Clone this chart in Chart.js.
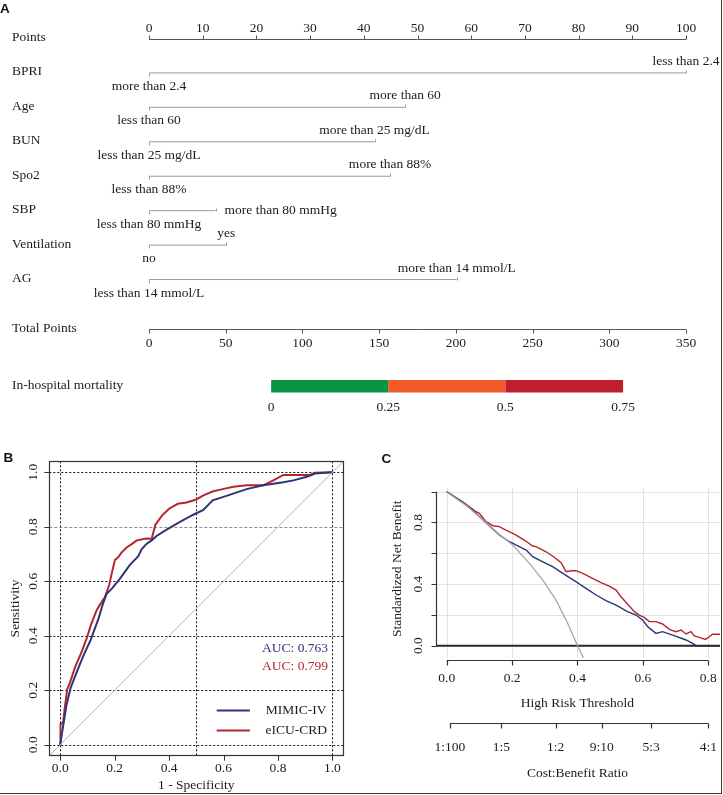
<!DOCTYPE html>
<html lang="en">
<head>
<meta charset="UTF-8">
<title>Nomogram, ROC and decision curve</title>
<style>
  html, body { margin: 0; padding: 0; background: #fff; }
  #page { position: relative; width: 723px; height: 795px; overflow: hidden; }
  #page canvas { position: absolute; }
  #nomo { left: 0; top: 0; }
  #roc { left: 0; top: 445px; }
  #dca { left: 365px; top: 445px; }
  .edge { position: absolute; background: #3a3a3a; }
</style>
</head>
<body>
<div id="page">
  <canvas id="nomo" width="723" height="420"></canvas>
  <canvas id="roc" width="365" height="350"></canvas>
  <canvas id="dca" width="358" height="350"></canvas>
  <div class="edge" style="left:721px;top:0;width:1px;height:794px"></div>
  <div class="edge" style="left:0;top:793px;width:722px;height:1px"></div>
</div>
<script src="https://cdn.jsdelivr.net/npm/chart.js"></script>
<script>
// ---------- panel A : nomogram ----------
const pointTicks = [0, 10, 20, 30, 40, 50, 60, 70, 80, 90, 100];
const totalTicks = [0, 50, 100, 150, 200, 250, 300, 350];
const predictors = ['BPRI', 'Age', 'BUN', 'Spo2', 'SBP', 'Ventilation', 'AG'];
const zeroLevels = ['more than 2.4', 'less than 60', 'less than 25 mg/dL', 'less than 88%',
                    'less than 80 mmHg', 'no', 'less than 14 mmol/L'];
const topLevels = ['less than 2.4', 'more than 60', 'more than 25 mg/dL', 'more than 88%',
                   'more than 80 mmHg', 'yes', 'more than 14 mmol/L'];
const zeroPoints = [0, 0, 0, 0, 0, 0, 0];
const topPoints = [100, 47.7, 42, 44.9, 12.4, 14.4, 57.3];
const riskLabels = ['0', '0.25', '0.5', '0.75'];
const riskTotals = [79.6, 155.9, 232.2, 309];   // total points under each risk label

// ---------- panel B : ROC ----------
const rocTicks = [0, 0.2, 0.4, 0.6, 0.8, 1.0];
const rocTickLabels = ['0.0', '0.2', '0.4', '0.6', '0.8', '1.0'];
const rocGridX = [0, 0.5, 1];
const rocDiag = [-0.04, 1.04];
const mimicFpr = [0, 0.011, 0.023, 0.038, 0.060, 0.085, 0.112, 0.140, 0.158, 0.170, 0.189, 0.219,
  0.256, 0.287, 0.299, 0.317, 0.336, 0.354, 0.391, 0.440, 0.489, 0.526, 0.544, 0.560, 0.611, 0.685,
  0.746, 0.820, 0.857, 0.906, 0.936, 1.0];
const mimicTpr = [0, 0.070, 0.145, 0.208, 0.265, 0.326, 0.385, 0.461, 0.520, 0.553, 0.572, 0.609,
  0.660, 0.692, 0.717, 0.737, 0.750, 0.766, 0.789, 0.818, 0.844, 0.862, 0.880, 0.897, 0.913, 0.938,
  0.952, 0.963, 0.970, 0.983, 0.995, 1.0];
const eicuFpr = [0, 0.001, 0.011, 0.017, 0.026, 0.036, 0.054, 0.078, 0.099, 0.112, 0.134, 0.148,
  0.164, 0.180, 0.189, 0.201, 0.213, 0.225, 0.244, 0.268, 0.281, 0.317, 0.336, 0.350, 0.376, 0.400,
  0.432, 0.464, 0.500, 0.526, 0.562, 0.593, 0.636, 0.685, 0.746, 0.783, 0.820, 0.918, 0.936, 1.0];
const eicuTpr = [0, 0.075, 0.082, 0.136, 0.205, 0.228, 0.283, 0.339, 0.395, 0.437, 0.494, 0.517,
  0.541, 0.586, 0.627, 0.678, 0.688, 0.705, 0.724, 0.740, 0.750, 0.757, 0.756, 0.808, 0.843, 0.866,
  0.884, 0.889, 0.900, 0.915, 0.930, 0.937, 0.947, 0.952, 0.952, 0.970, 0.990, 0.990, 0.998, 1.0];
const cohorts = ['MIMIC-IV', 'eICU-CRD'];
const aucText = ['AUC: 0.763', 'AUC: 0.799'];

// ---------- panel C : decision curve ----------
const dcaTicks = [0, 0.2, 0.4, 0.6, 0.8];
const dcaTickLabels = ['0.0', '0.2', '0.4', '0.6', '0.8'];
const nbTicks = [0, 0.2, 0.4, 0.6, 0.8, 1.0];
const nbTickLabels = ['0.0', '', '0.4', '', '0.8', ''];
const cbLabels = ['1:100', '1:5', '1:2', '9:10', '5:3', '4:1'];
const cbAt = [0.0099, 0.167, 0.333, 0.474, 0.625, 0.8];
const noneX = [-0.04, 0.85];
const allPt = [0, 0.06, 0.12, 0.161, 0.202, 0.253, 0.294, 0.334, 0.370, 0.400, 0.416, 0.430];
const allNb = [1.0, 0.91, 0.80, 0.722, 0.654, 0.535, 0.426, 0.297, 0.145, 0.0, -0.071, -0.15];
const mimicPt = [0, 0.049, 0.079, 0.120, 0.161, 0.192, 0.222, 0.243, 0.263, 0.294, 0.324, 0.355,
  0.395, 0.426, 0.457, 0.487, 0.518, 0.553, 0.579, 0.599, 0.615, 0.640, 0.660, 0.691, 0.732, 0.752,
  0.762, 0.840];
const mimicNb = [1.0, 0.929, 0.881, 0.799, 0.719, 0.675, 0.643, 0.621, 0.578, 0.545, 0.513, 0.470,
  0.416, 0.372, 0.329, 0.292, 0.264, 0.221, 0.199, 0.167, 0.123, 0.080, 0.091, 0.069, 0.037, 0.015,
  0.0, 0.0];
const eicuPt = [0, 0.049, 0.090, 0.100, 0.120, 0.141, 0.161, 0.181, 0.207, 0.237, 0.263, 0.273,
  0.304, 0.329, 0.350, 0.365, 0.380, 0.395, 0.416, 0.446, 0.472, 0.497, 0.518, 0.533, 0.553, 0.574,
  0.589, 0.604, 0.620, 0.640, 0.660, 0.681, 0.701, 0.717, 0.732, 0.747, 0.757, 0.773, 0.791, 0.803,
  0.813, 0.836];
const eicuNb = [1.0, 0.935, 0.870, 0.859, 0.805, 0.779, 0.773, 0.751, 0.725, 0.686, 0.647, 0.643,
  0.610, 0.574, 0.539, 0.481, 0.487, 0.487, 0.470, 0.437, 0.409, 0.387, 0.361, 0.318, 0.271, 0.221,
  0.199, 0.184, 0.156, 0.156, 0.141, 0.106, 0.091, 0.102, 0.076, 0.091, 0.063, 0.054, 0.041, 0.058,
  0.074, 0.074];

// ---------- styling ----------
const SERIF = '"Liberation Serif", "Times New Roman", serif';
const FONT = '13.5px ' + SERIF;
const INK = '#1c1c1c';
const NAVY = '#2f3474';
const RED = '#b5262f';
const bandColors = ['#0b9444', '#f15a29', '#be1e2d'];
const TOTAL_ROW = 8.45;
const RISK_ROW = 10.1;

function label(ctx, s, px, py, o = {}) {
  ctx.save();
  ctx.font = o.font || FONT;
  ctx.fillStyle = o.color || INK;
  ctx.textAlign = o.align || 'center';
  ctx.textBaseline = 'middle';
  ctx.translate(px, py);
  if (o.rot) ctx.rotate(-Math.PI / 2);
  ctx.fillText(s, 0, 0);
  ctx.restore();
}
function seg(ctx, x1, y1, x2, y2) { ctx.moveTo(x1, y1); ctx.lineTo(x2, y2); }
const snap = v => Math.round(v) + 0.5;
const pairs = (xs, ys) => xs.map((v, i) => ({ x: v, y: ys[i] }));
const baseOpts = {
  responsive: false,
  animation: false,
  plugins: { legend: { display: false }, tooltip: { enabled: false } }
};

// nomogram axes and texts
const nomoPlugin = {
  id: 'nomoText',
  afterDatasetsDraw(chart) {
    const { ctx, scales: { x, xt, y } } = chart;
    ctx.save();
    ctx.lineWidth = 1;
    // Points axis: ticks up, labels above
    const py = snap(y.getPixelForValue(0));
    ctx.strokeStyle = '#555';
    ctx.beginPath();
    seg(ctx, x.getPixelForValue(pointTicks[0]), py, x.getPixelForValue(pointTicks[pointTicks.length - 1]), py);
    pointTicks.forEach(t => { const px = snap(x.getPixelForValue(t)); seg(ctx, px, py, px, py - 4); });
    ctx.stroke();
    pointTicks.forEach(t => label(ctx, String(t), x.getPixelForValue(t), py - 11.5));

    // predictor ticks and level names
    ctx.strokeStyle = '#9a9a9a';
    predictors.forEach((p, i) => {
      const ry = snap(y.getPixelForValue(i + 1));
      const a = x.getPixelForValue(zeroPoints[i]);
      const b = x.getPixelForValue(topPoints[i]);
      ctx.beginPath();
      seg(ctx, snap(a), ry, snap(a), ry + 3);
      seg(ctx, snap(b), ry, snap(b), ry - 3);
      ctx.stroke();
      label(ctx, zeroLevels[i], a, ry + 12.5);
      if (p === 'SBP') label(ctx, topLevels[i], b + 9, ry - 1.5, { align: 'left' });
      else label(ctx, topLevels[i], b, ry - 12);
    });

    // Total Points axis: ticks down, labels below
    const ty = snap(y.getPixelForValue(TOTAL_ROW));
    ctx.strokeStyle = '#555';
    ctx.beginPath();
    seg(ctx, xt.getPixelForValue(totalTicks[0]), ty, xt.getPixelForValue(totalTicks[totalTicks.length - 1]), ty);
    totalTicks.forEach(t => { const px = snap(xt.getPixelForValue(t)); seg(ctx, px, ty, px, ty + 4); });
    ctx.stroke();
    totalTicks.forEach(t => label(ctx, String(t), xt.getPixelForValue(t), ty + 13.5));

    // risk labels under the coloured bar
    const ky = y.getPixelForValue(RISK_ROW);
    riskLabels.forEach((s, k) => label(ctx, s, xt.getPixelForValue(riskTotals[k]), ky + 21));

    // row names
    const rowNames = ['Points', ...predictors, 'Total Points', 'In-hospital mortality'];
    const rowVals = [0, ...predictors.map((p, i) => i + 1), TOTAL_ROW, RISK_ROW];
    rowNames.forEach((n, k) => label(ctx, n, 12, y.getPixelForValue(rowVals[k]) - 1, { align: 'left' }));

    label(ctx, 'A', 0, 9, { align: 'left', font: 'bold 13.5px "Liberation Sans", Arial, sans-serif', color: '#111' });
    ctx.restore();
  }
};

const nomoSets = predictors.map((p, i) => ({
  label: p,
  data: [{ x: zeroPoints[i], y: i + 1 }, { x: topPoints[i], y: i + 1 }],
  xAxisID: 'x', borderColor: '#9a9a9a', borderWidth: 1,
  showLine: true, pointRadius: 0, clip: false
}));
for (let k = 0; k < riskTotals.length - 1; k++) {
  nomoSets.push({
    label: 'risk ' + riskLabels[k],
    data: [{ x: riskTotals[k], y: RISK_ROW }, { x: riskTotals[k + 1], y: RISK_ROW }],
    xAxisID: 'xt', borderColor: bandColors[k], borderWidth: 12.5, borderCapStyle: 'butt',
    showLine: true, pointRadius: 0, clip: false
  });
}

new Chart(document.getElementById('nomo'), {
  type: 'scatter',
  data: { datasets: nomoSets },
  options: {
    ...baseOpts,
    layout: { padding: { left: 149, right: 37, top: 38.5, bottom: 33.7 } },
    scales: {
      x: { type: 'linear', display: false, min: 0, max: 100 },
      xt: { type: 'linear', axis: 'x', display: false, min: 0, max: 350 },
      y: { type: 'linear', display: false, min: 0, max: RISK_ROW, reverse: true }
    }
  },
  plugins: [nomoPlugin]
});

// ROC frame, grid and annotations
const rocPlugin = {
  id: 'rocFrame',
  beforeDatasetsDraw(chart) {
    const { ctx, chartArea: a, scales: { x, y } } = chart;
    ctx.save();
    ctx.lineWidth = 1;
    ctx.strokeStyle = '#111';
    ctx.setLineDash([2, 2]);
    ctx.beginPath();
    rocGridX.forEach(v => { const px = snap(x.getPixelForValue(v)); seg(ctx, px, a.top, px, a.bottom); });
    rocTicks.filter(v => v !== 0.8).forEach(v => { const py = snap(y.getPixelForValue(v)); seg(ctx, a.left, py, a.right, py); });
    ctx.stroke();
    ctx.strokeStyle = '#8c8c8c';
    ctx.setLineDash([3, 2]);
    ctx.beginPath();
    const p8 = snap(y.getPixelForValue(0.8));
    seg(ctx, a.left, p8, a.right, p8);
    ctx.stroke();
    ctx.restore();
  },
  afterDatasetsDraw(chart) {
    const { ctx, chartArea: a, scales: { x, y } } = chart;
    ctx.save();
    ctx.strokeStyle = '#333';
    ctx.lineWidth = 1.2;
    ctx.strokeRect(snap(a.left), snap(a.top), Math.round(a.right - a.left), Math.round(a.bottom - a.top));
    ctx.lineWidth = 1;
    ctx.beginPath();
    rocTicks.forEach(v => {
      const px = snap(x.getPixelForValue(v));
      seg(ctx, px, a.bottom, px, a.bottom + 5);
      const py = snap(y.getPixelForValue(v));
      seg(ctx, a.left, py, a.left - 5, py);
    });
    ctx.stroke();
    rocTicks.forEach((v, i) => {
      label(ctx, rocTickLabels[i], x.getPixelForValue(v), a.bottom + 12.5);
      label(ctx, rocTickLabels[i], 33, y.getPixelForValue(v), { rot: true });
    });
    label(ctx, '1 - Specificity', (a.left + a.right) / 2, 340);
    label(ctx, 'Sensitivity', 15, (a.top + a.bottom) / 2, { rot: true });

    // AUC values
    label(ctx, aucText[0], x.getPixelForValue(0.863), y.getPixelForValue(0.353), { color: NAVY });
    label(ctx, aucText[1], x.getPixelForValue(0.863), y.getPixelForValue(0.286), { color: RED });

    // legend
    [NAVY, RED].forEach((c, k) => {
      const ly = snap(y.getPixelForValue(k === 0 ? 0.127 : 0.053));
      ctx.strokeStyle = c;
      ctx.lineWidth = 2;
      ctx.beginPath();
      seg(ctx, x.getPixelForValue(0.575), ly, x.getPixelForValue(0.697), ly);
      ctx.stroke();
      label(ctx, cohorts[k], x.getPixelForValue(0.867), ly);
    });
    label(ctx, 'B', 3.5, 13, { align: 'left', font: 'bold 13.5px "Liberation Sans", Arial, sans-serif', color: '#111' });
    ctx.restore();
  }
};

new Chart(document.getElementById('roc'), {
  type: 'scatter',
  data: {
    datasets: [
      { label: 'reference', data: pairs(rocDiag, rocDiag), borderColor: '#b4b4b4', borderWidth: 1,
        showLine: true, pointRadius: 0 },
      { label: cohorts[0], data: pairs(mimicFpr, mimicTpr), borderColor: NAVY, borderWidth: 2,
        showLine: true, pointRadius: 0 },
      { label: cohorts[1], data: pairs(eicuFpr, eicuTpr), borderColor: RED, borderWidth: 2,
        showLine: true, pointRadius: 0 }
    ]
  },
  options: {
    ...baseOpts,
    layout: { padding: { left: 49.3, right: 21.7, top: 16.3, bottom: 39.3 } },
    scales: {
      x: { type: 'linear', display: false, min: -0.04, max: 1.04 },
      y: { type: 'linear', display: false, min: -0.04, max: 1.04 }
    }
  },
  plugins: [rocPlugin]
});

// decision curve axes and grid
const dcaPlugin = {
  id: 'dcaAxes',
  beforeDatasetsDraw(chart) {
    const { ctx, chartArea: a, scales: { x, y } } = chart;
    ctx.save();
    ctx.strokeStyle = '#e2e2e2';
    ctx.lineWidth = 1;
    ctx.beginPath();
    dcaTicks.forEach(v => { const px = snap(x.getPixelForValue(v)); seg(ctx, px, a.top, px, a.bottom); });
    nbTicks.forEach(v => { const py = snap(y.getPixelForValue(v)); seg(ctx, a.left, py, a.right, py); });
    ctx.stroke();
    ctx.restore();
  },
  afterDatasetsDraw(chart) {
    const { ctx, chartArea: a, scales: { x, y } } = chart;
    ctx.save();
    ctx.strokeStyle = '#333';
    ctx.lineWidth = 1.2;
    // y axis
    const ax = snap(a.left);
    ctx.beginPath();
    seg(ctx, ax, y.getPixelForValue(nbTicks[0]), ax, y.getPixelForValue(nbTicks[nbTicks.length - 1]));
    nbTicks.forEach(v => { const py = snap(y.getPixelForValue(v)); seg(ctx, ax, py, ax - 5, py); });
    // threshold axis
    const bx = snap(a.bottom + 2);
    seg(ctx, x.getPixelForValue(dcaTicks[0]), bx, x.getPixelForValue(dcaTicks[dcaTicks.length - 1]), bx);
    dcaTicks.forEach(v => { const px = snap(x.getPixelForValue(v)); seg(ctx, px, bx, px, bx + 5); });
    // cost:benefit axis
    const cy = 278.5;
    seg(ctx, x.getPixelForValue(cbAt[0]), cy, x.getPixelForValue(cbAt[cbAt.length - 1]), cy);
    cbAt.forEach(v => { const px = snap(x.getPixelForValue(v)); seg(ctx, px, cy, px, cy + 5); });
    ctx.stroke();

    nbTicks.forEach((v, i) => { if (nbTickLabels[i]) label(ctx, nbTickLabels[i], 53, y.getPixelForValue(v), { rot: true }); });
    dcaTicks.forEach((v, i) => label(ctx, dcaTickLabels[i], x.getPixelForValue(v), 233));
    cbAt.forEach((v, i) => label(ctx, cbLabels[i], x.getPixelForValue(v), 302));
    const mid = x.getPixelForValue(0.4);
    label(ctx, 'High Risk Threshold', mid, 258);
    label(ctx, 'Cost:Benefit Ratio', mid, 328);
    label(ctx, 'Standardized Net Benefit', 32, y.getPixelForValue(0.5), { rot: true });
    label(ctx, 'C', 16.5, 14.5, { align: 'left', font: 'bold 13.5px "Liberation Sans", Arial, sans-serif', color: '#111' });
    ctx.restore();
  }
};

new Chart(document.getElementById('dca'), {
  type: 'scatter',
  data: {
    datasets: [
      { label: 'All', data: pairs(allPt, allNb), borderColor: '#a8a8a8', borderWidth: 1.3,
        showLine: true, pointRadius: 0 },
      { label: 'None', data: pairs(noneX, [0, 0]), borderColor: '#2b2b2b', borderWidth: 2,
        showLine: true, pointRadius: 0 },
      { label: cohorts[0], data: pairs(mimicPt, mimicNb), borderColor: NAVY, borderWidth: 1.4,
        showLine: true, pointRadius: 0 },
      { label: cohorts[1], data: pairs(eicuPt, eicuNb), borderColor: RED, borderWidth: 1.4,
        showLine: true, pointRadius: 0 }
    ]
  },
  options: {
    ...baseOpts,
    layout: { padding: { left: 71, right: 3, top: 43, bottom: 137 } },
    scales: {
      x: { type: 'linear', display: false, min: -0.0327, max: 0.8358 },
      y: { type: 'linear', display: false, min: -0.08, max: 1.024 }
    }
  },
  plugins: [dcaPlugin]
});
</script>
</body>
</html>
